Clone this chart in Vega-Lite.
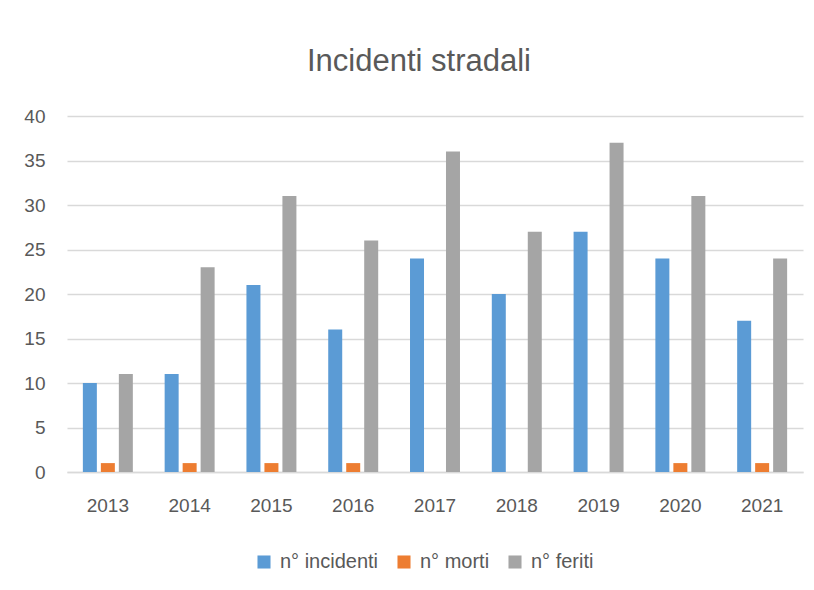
{
  "$schema": "https://vega.github.io/schema/vega-lite/v6.json",
  "width": 736,
  "height": 356,
  "autosize": {"type": "none"},
  "padding": {"left": 67, "top": 116, "right": 11, "bottom": 118},
  "background": "white",
  "title": {
    "text": "Incidenti stradali",
    "font": "Liberation Sans",
    "fontSize": 31,
    "fontWeight": "normal",
    "color": "#595959",
    "anchor": "middle",
    "baseline": "alphabetic",
    "offset": 5,
    "dx": -16
  },
  "data": {
    "values": [
      {"anno": "2013", "serie": "n° incidenti", "valore": 10},
      {"anno": "2013", "serie": "n° morti", "valore": 1},
      {"anno": "2013", "serie": "n° feriti", "valore": 11},
      {"anno": "2014", "serie": "n° incidenti", "valore": 11},
      {"anno": "2014", "serie": "n° morti", "valore": 1},
      {"anno": "2014", "serie": "n° feriti", "valore": 23},
      {"anno": "2015", "serie": "n° incidenti", "valore": 21},
      {"anno": "2015", "serie": "n° morti", "valore": 1},
      {"anno": "2015", "serie": "n° feriti", "valore": 31},
      {"anno": "2016", "serie": "n° incidenti", "valore": 16},
      {"anno": "2016", "serie": "n° morti", "valore": 1},
      {"anno": "2016", "serie": "n° feriti", "valore": 26},
      {"anno": "2017", "serie": "n° incidenti", "valore": 24},
      {"anno": "2017", "serie": "n° morti", "valore": 0},
      {"anno": "2017", "serie": "n° feriti", "valore": 36},
      {"anno": "2018", "serie": "n° incidenti", "valore": 20},
      {"anno": "2018", "serie": "n° morti", "valore": 0},
      {"anno": "2018", "serie": "n° feriti", "valore": 27},
      {"anno": "2019", "serie": "n° incidenti", "valore": 27},
      {"anno": "2019", "serie": "n° morti", "valore": 0},
      {"anno": "2019", "serie": "n° feriti", "valore": 37},
      {"anno": "2020", "serie": "n° incidenti", "valore": 24},
      {"anno": "2020", "serie": "n° morti", "valore": 1},
      {"anno": "2020", "serie": "n° feriti", "valore": 31},
      {"anno": "2021", "serie": "n° incidenti", "valore": 17},
      {"anno": "2021", "serie": "n° morti", "valore": 1},
      {"anno": "2021", "serie": "n° feriti", "valore": 24}
    ]
  },
  "mark": {"type": "bar"},
  "encoding": {
    "x": {
      "field": "anno",
      "type": "nominal",
      "sort": null,
      "scale": {"paddingInner": 0.389, "paddingOuter": 0.194},
      "axis": {
        "title": null,
        "labelAngle": 0,
        "ticks": false,
        "grid": false,
        "domain": true,
        "domainColor": "#d9d9d9",
        "domainWidth": 1.5,
        "labelPadding": 24,
        "labelFont": "Liberation Sans",
        "labelFontSize": 19,
        "labelColor": "#595959"
      }
    },
    "xOffset": {
      "field": "serie",
      "type": "nominal",
      "sort": ["n° incidenti", "n° morti", "n° feriti"],
      "scale": {"paddingInner": 0.222, "paddingOuter": 0}
    },
    "y": {
      "field": "valore",
      "type": "quantitative",
      "scale": {"domain": [0, 40], "nice": false},
      "axis": {
        "title": null,
        "values": [0, 5, 10, 15, 20, 25, 30, 35, 40],
        "ticks": false,
        "domain": false,
        "grid": true,
        "gridColor": "#d9d9d9",
        "gridWidth": 1.5,
        "labelPadding": 22,
        "labelFont": "Liberation Sans",
        "labelFontSize": 19,
        "labelColor": "#595959"
      }
    },
    "color": {
      "field": "serie",
      "type": "nominal",
      "sort": ["n° incidenti", "n° morti", "n° feriti"],
      "scale": {
        "domain": ["n° incidenti", "n° morti", "n° feriti"],
        "range": ["#5b9bd5", "#ed7d31", "#a5a5a5"]
      },
      "legend": {
        "title": null,
        "orient": "none",
        "direction": "horizontal",
        "legendX": 187,
        "legendY": 436,
        "padding": 0,
        "symbolType": "square",
        "symbolSize": 170,
        "symbolStrokeWidth": 0,
        "symbolOpacity": 1,
        "labelFont": "Liberation Sans",
        "labelFontSize": 20,
        "labelColor": "#595959",
        "labelOffset": 6,
        "columnPadding": 15
      }
    }
  },
  "config": {
    "view": {"stroke": null}
  }
}
